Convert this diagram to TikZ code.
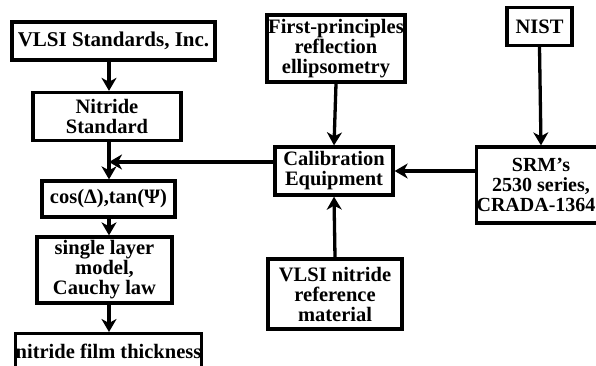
\documentclass[tikz,border=0pt]{standalone}
\usepackage{fontspec}
\setmainfont{Liberation Serif}
\usepackage{tikz}
\usetikzlibrary{arrows.meta}

\begin{document}
\begin{tikzpicture}[->,>={Stealth[length=13pt,width=15pt,inset=4pt]},x=1pt,y=-1pt,line width=3.3pt,
  main node/.style={rectangle,draw,fill=white,inner sep=0pt,align=center,
    font=\bfseries\fontsize{20.5}{20}\selectfont}]
  \useasboundingbox (0,0) rectangle (596,365);

  \node[main node,minimum width=203pt,minimum height=38pt,font=\bfseries\fontsize{21}{21}\selectfont] (1) at (113.5,41) {VLSI Standards, Inc.};
  \node[main node,minimum width=148pt,minimum height=48pt] (2) at (107,116.5) {Nitride\\Standard};
  \node[main node,minimum width=133pt,minimum height=36pt] (3) at (108.5,199) {cos(Δ),tan(Ψ)};
  \node[main node,minimum width=135pt,minimum height=66pt] (4) at (104.5,270) {single layer\\model,\\Cauchy law};
  \node[main node,minimum width=183pt,minimum height=36pt,anchor=north] (5) at (108.5,332) {nitride film thickness};
  \node[main node,minimum width=118pt,minimum height=48pt] (6) at (334,171) {Calibration\\Equipment};
  \node[main node,minimum width=138pt,minimum height=67pt] (7) at (336,48.5) {First-principles\\reflection\\ellipsometry};
  \node[main node,minimum width=65pt,minimum height=38pt] (8) at (539.5,26.5) {NIST};
  \node[main node,minimum width=128pt,minimum height=76pt,font=\bfseries\fontsize{20}{20}\selectfont] (9) at (541,185) {SRM’s\\2530 series,\\CRADA-1364\hspace*{10pt}};
  \node[main node,minimum width=134pt,minimum height=70pt] (10) at (335,294) {VLSI nitride\\reference\\material};

  \coordinate (c) at (109,0);
  \coordinate (a) at ([yshift=9pt]6.west);

  \path (1.south -| c) edge (2.north -| c)
        (2.south -| c) edge (3.north -| c)
        (a) edge (a -| c)
        (3.south -| c) edge (4.north -| c)
        (4.south -| c) edge (5.north -| c)
        (7.south) edge (6.north)
        (10.north) edge (6.south)
        (8.south) edge (9.north)
        (9.west |- 6.east) edge (6.east);

\end{tikzpicture}
\end{document}
